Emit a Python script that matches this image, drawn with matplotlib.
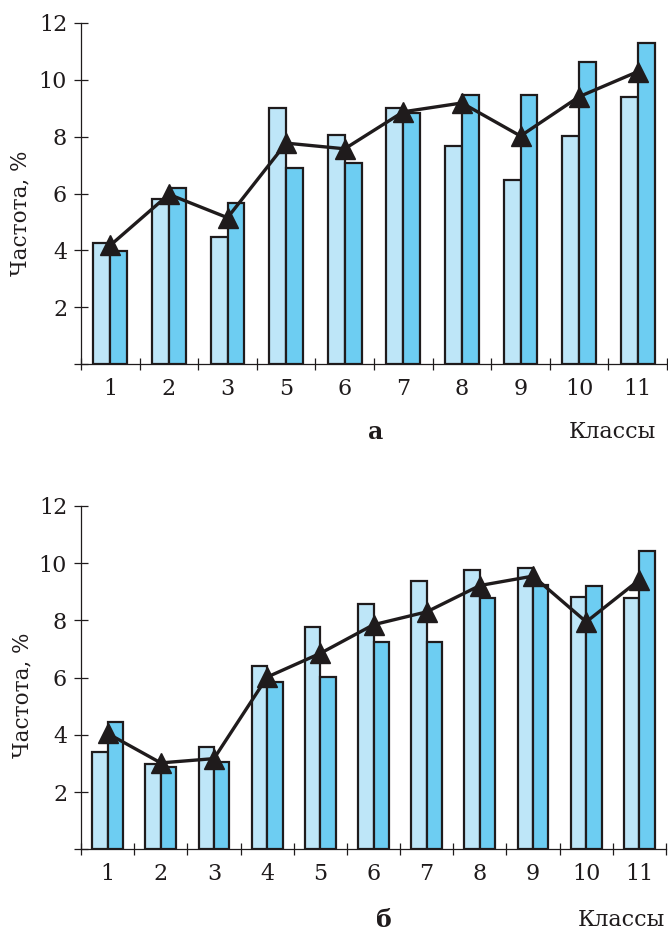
import numpy as np
import matplotlib
matplotlib.use('Agg')
import matplotlib.pyplot as plt

#============================================================
# data
#============================================================
classes_a = ['1', '2', '3', '5', '6', '7', '8', '9', '10', '11']
light_a = [4.26, 5.79, 4.46, 9.0, 8.05, 9.0, 7.67, 6.46, 8.01, 9.39]
dark_a = [3.99, 6.19, 5.68, 6.88, 7.06, 8.82, 9.46, 9.46, 10.61, 11.29]
line_a = [4.18, 5.97, 5.15, 7.77, 7.57, 8.87, 9.18, 8.02, 9.4, 10.28]

classes_b = ['1', '2', '3', '4', '5', '6', '7', '8', '9', '10', '11']
light_b = [3.39, 2.98, 3.59, 6.39, 7.78, 8.57, 9.39, 9.77, 9.85, 8.83, 8.78]
dark_b = [4.46, 2.87, 3.05, 5.85, 6.04, 7.26, 7.24, 8.78, 9.24, 9.2, 10.43]
line_b = [4.05, 3.02, 3.17, 6.02, 6.85, 7.85, 8.3, 9.22, 9.55, 7.95, 9.42]

yticks = [0, 2, 4, 6, 8, 10, 12]
ytick_labels = ['', '2', '4', '6', '8', '10', '12']

#============================================================
LIGHT = '#bee6f8'
DARK = '#6dcdf2'
INK = '#1f1b1c'
BAR_W = 0.29
plt.rcParams['font.family'] = ['DejaVu Serif']


def drawPanel(ax, classes, light, dark, line):
    x = np.arange(len(classes))
    ax.bar(x - BAR_W / 2, light, BAR_W, color=LIGHT, edgecolor=INK, linewidth=1.6, zorder=2)
    ax.bar(x + BAR_W / 2, dark, BAR_W, color=DARK, edgecolor=INK, linewidth=1.6, zorder=2)
    ax.plot(x, line, color=INK, linewidth=2.4, marker='^', markersize=14.5,
            markerfacecolor=INK, markeredgecolor=INK, zorder=3)
    ax.set_xlim(-0.5, len(classes) - 0.5)
    ax.set_ylim(0, 12)
    # boundaries get the tick marks, centres get the labels
    ax.set_xticks(np.arange(len(classes) + 1) - 0.5)
    ax.set_xticklabels([])
    ax.set_xticks(x, minor=True)
    ax.set_xticklabels(classes, minor=True)
    ax.tick_params(axis='x', which='major', direction='inout', length=9, width=0.9, color=INK)
    ax.tick_params(axis='x', which='minor', length=0, pad=10, labelsize=16, labelcolor=INK)
    ax.set_yticks(yticks)
    ax.set_yticklabels(ytick_labels)
    ax.tick_params(axis='y', direction='inout', length=10, width=0.9, color=INK,
                   pad=5, labelsize=16, labelcolor=INK)
    for s in ['top', 'right']:
        ax.spines[s].set_visible(False)
    for s in ['left', 'bottom']:
        ax.spines[s].set_color(INK)
        ax.spines[s].set_linewidth(0.9)
    for lab in ax.get_xticklabels(minor=True):
        lab.set_clip_on(False)


W, H = 668, 935
fig = plt.figure(figsize=(W / 100, H / 100), dpi=100)

# top panel (а)
ax1 = fig.add_axes([81 / W, 1 - 364.3 / H, 586 / W, 341.6 / H])
drawPanel(ax1, classes_a, light_a, dark_a, line_a)
fig.text(20 / W, 1 - 213 / H, 'Частота, %', rotation=90, ha='center', va='center',
         fontsize=15.5, color=INK)
fig.text(376 / W, 1 - 432 / H, 'а', ha='center', va='center', fontsize=17,
         fontweight='bold', color=INK)
fig.text(612 / W, 1 - 432 / H, 'Классы', ha='center', va='center', fontsize=16, color=INK)

# bottom panel (б)
ax2 = fig.add_axes([81 / W, 1 - 849.3 / H, 585 / W, 343.3 / H])
drawPanel(ax2, classes_b, light_b, dark_b, line_b)
fig.text(22 / W, 1 - 695 / H, 'Частота, %', rotation=90, ha='center', va='center',
         fontsize=15.5, color=INK)
fig.text(384 / W, 1 - 920 / H, 'б', ha='center', va='center', fontsize=17,
         fontweight='bold', color=INK)
fig.text(621 / W, 1 - 920 / H, 'Классы', ha='center', va='center', fontsize=16, color=INK)

fig.savefig('out.png', dpi=100)
